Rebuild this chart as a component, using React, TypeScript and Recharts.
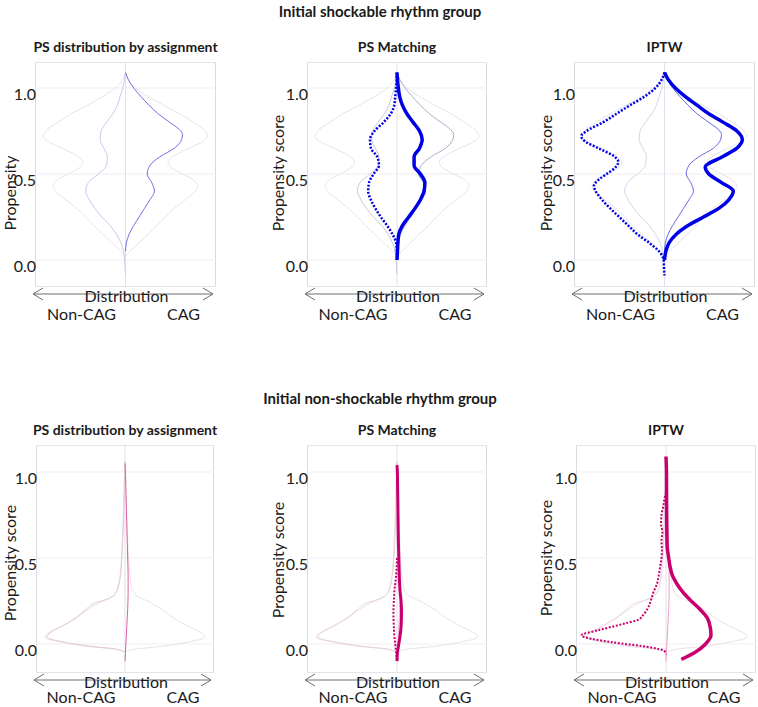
import React from 'react';
import { ScatterChart, Scatter, XAxis, YAxis, CartesianGrid, ReferenceLine } from 'recharts';

type Pt = [number, number]; // [propensity score, density as share of half panel width]

// Initial shockable rhythm group
const shockAll: Pt[] = [[0.02, 0], [0.05, 0.05], [0.1, 0.15], [0.15, 0.25], [0.2, 0.35], [0.25, 0.44], [0.3, 0.54], [0.35, 0.66], [0.4, 0.77], [0.43, 0.8], [0.47, 0.74], [0.5, 0.63], [0.54, 0.5], [0.57, 0.47], [0.61, 0.55], [0.65, 0.7], [0.69, 0.86], [0.72, 0.91], [0.75, 0.88], [0.8, 0.75], [0.85, 0.6], [0.9, 0.42], [0.95, 0.25], [1.0, 0.11], [1.05, 0.03], [1.09, 0]];
const shockNonCag: Pt[] = [[-0.08, 0], [0, 0.01], [0.05, 0.02], [0.1, 0.05], [0.15, 0.1], [0.2, 0.17], [0.25, 0.26], [0.3, 0.34], [0.35, 0.4], [0.4, 0.44], [0.45, 0.41], [0.5, 0.3], [0.55, 0.21], [0.6, 0.2], [0.65, 0.24], [0.7, 0.28], [0.75, 0.27], [0.8, 0.21], [0.85, 0.14], [0.9, 0.09], [0.95, 0.06], [1.0, 0.03], [1.05, 0.01], [1.09, 0]];
const shockCag: Pt[] = [[0.05, 0], [0.1, 0.01], [0.15, 0.04], [0.2, 0.09], [0.25, 0.15], [0.3, 0.21], [0.35, 0.27], [0.4, 0.32], [0.45, 0.29], [0.5, 0.24], [0.55, 0.27], [0.6, 0.38], [0.65, 0.54], [0.7, 0.62], [0.73, 0.63], [0.77, 0.57], [0.8, 0.49], [0.85, 0.36], [0.9, 0.26], [0.95, 0.17], [1.0, 0.09], [1.05, 0.03], [1.09, 0]];
const shockMatchNonCag: Pt[] = [[0.04, 0], [0.1, 0.01], [0.15, 0.05], [0.2, 0.11], [0.25, 0.18], [0.3, 0.24], [0.35, 0.29], [0.4, 0.32], [0.45, 0.31], [0.5, 0.26], [0.55, 0.2], [0.6, 0.22], [0.65, 0.29], [0.7, 0.3], [0.75, 0.25], [0.8, 0.15], [0.85, 0.07], [0.9, 0.03], [0.95, 0.02], [1.0, 0.01], [1.09, 0]];
const shockMatchCag: Pt[] = [[0, 0], [0.05, 0.005], [0.1, 0.01], [0.15, 0.02], [0.2, 0.06], [0.25, 0.13], [0.3, 0.2], [0.35, 0.26], [0.4, 0.3], [0.45, 0.31], [0.5, 0.26], [0.55, 0.19], [0.6, 0.19], [0.65, 0.25], [0.7, 0.28], [0.75, 0.25], [0.8, 0.18], [0.85, 0.11], [0.9, 0.06], [0.95, 0.03], [1.0, 0.015], [1.05, 0.005], [1.09, 0]];
const shockIptwNonCag: Pt[] = [[-0.09, 0], [-0.05, 0.005], [0, 0.01], [0.05, 0.06], [0.1, 0.17], [0.15, 0.3], [0.2, 0.4], [0.25, 0.5], [0.3, 0.6], [0.35, 0.69], [0.4, 0.76], [0.43, 0.78], [0.47, 0.72], [0.5, 0.64], [0.54, 0.54], [0.57, 0.51], [0.6, 0.55], [0.65, 0.73], [0.69, 0.88], [0.72, 0.92], [0.75, 0.86], [0.8, 0.68], [0.85, 0.53], [0.9, 0.38], [0.95, 0.22], [1.0, 0.1], [1.05, 0.03], [1.09, 0]];
const shockIptwCag: Pt[] = [[0, 0], [0.05, 0.015], [0.1, 0.05], [0.15, 0.13], [0.2, 0.26], [0.25, 0.43], [0.3, 0.6], [0.35, 0.71], [0.4, 0.76], [0.45, 0.63], [0.5, 0.49], [0.54, 0.45], [0.6, 0.64], [0.65, 0.8], [0.7, 0.86], [0.75, 0.8], [0.8, 0.65], [0.85, 0.49], [0.9, 0.36], [0.95, 0.23], [1.0, 0.12], [1.05, 0.04], [1.09, 0]];

// Initial non-shockable rhythm group
const nsAll: Pt[] = [[-0.05, 0], [-0.03, 0.12], [-0.015, 0.4], [0.01, 0.7], [0.04, 0.9], [0.07, 0.84], [0.1, 0.72], [0.15, 0.55], [0.2, 0.42], [0.25, 0.25], [0.28, 0.13], [0.32, 0.08], [0.4, 0.055], [0.5, 0.04], [0.6, 0.03], [0.8, 0.015], [1.0, 0.005], [1.06, 0]];
const nsNonCag: Pt[] = [[-0.05, 0], [-0.03, 0.1], [-0.015, 0.36], [0.01, 0.68], [0.04, 0.88], [0.07, 0.83], [0.1, 0.72], [0.15, 0.56], [0.2, 0.44], [0.24, 0.33], [0.26, 0.2], [0.3, 0.1], [0.35, 0.07], [0.4, 0.05], [0.5, 0.035], [0.6, 0.025], [0.8, 0.012], [1.0, 0.004], [1.06, 0]];
const nsCag: Pt[] = [[-0.1, 0], [-0.05, 0.005], [0, 0.01], [0.1, 0.02], [0.2, 0.03], [0.3, 0.035], [0.4, 0.035], [0.5, 0.03], [0.6, 0.025], [0.7, 0.02], [0.8, 0.015], [0.9, 0.01], [1.0, 0.005], [1.05, 0]];
const nsMatchNonCag: Pt[] = [[-0.09, 0], [-0.05, 0.01], [0, 0.02], [0.05, 0.03], [0.1, 0.035], [0.18, 0.04], [0.25, 0.035], [0.3, 0.03], [0.35, 0.02], [0.4, 0.01], [0.5, 0]];
const nsMatchCag: Pt[] = [[-0.1, 0], [-0.05, 0.005], [0, 0.02], [0.05, 0.035], [0.1, 0.045], [0.18, 0.05], [0.25, 0.045], [0.3, 0.035], [0.4, 0.025], [0.5, 0.02], [0.6, 0.015], [0.7, 0.012], [0.8, 0.01], [0.9, 0.007], [1.0, 0.004], [1.04, 0]];
const nsIptwNonCag: Pt[] = [[-0.06, 0], [-0.04, 0.02], [-0.02, 0.17], [0.01, 0.6], [0.05, 0.94], [0.08, 0.75], [0.1, 0.6], [0.12, 0.45], [0.14, 0.31], [0.17, 0.25], [0.2, 0.21], [0.25, 0.17], [0.3, 0.14], [0.35, 0.1], [0.4, 0.08], [0.45, 0.065], [0.5, 0.05], [0.55, 0.045], [0.6, 0.05], [0.65, 0.04], [0.7, 0.055], [0.75, 0.05], [0.8, 0.03], [0.85, 0.015], [0.88, 0]];
const nsIptwCag: Pt[] = [[-0.09, 0.17], [-0.05, 0.32], [0, 0.44], [0.05, 0.5], [0.1, 0.49], [0.15, 0.46], [0.2, 0.38], [0.25, 0.28], [0.3, 0.19], [0.35, 0.12], [0.4, 0.07], [0.45, 0.045], [0.5, 0.03], [0.57, 0.012], [0.7, 0.008], [1.0, 0.005], [1.09, 0]];

const yTicks = [0, 0.5, 1];
const groupTitles = ['Initial shockable rhythm group', 'Initial non-shockable rhythm group'];
const panelTitles = ['PS distribution by assignment', 'PS Matching', 'IPTW'];

const FONT = 'Lato, "Open Sans", sans-serif';
const BLUE = '#0000e6';
const MAGENTA = '#c8006e';
const AXIS_W = 40;

interface Curve { pts: Pt[]; side: 1 | -1; color: string; width: number; dotted?: boolean }

const toRows = (pts: Pt[], side: number) =>
  pts.map(([ps, d]) => ({ ps, d: side * d })).sort((a, b) => b.ps - a.ps);

const faintTop = (inL: string, inR: string): Curve[] => [
  { pts: shockAll, side: -1, color: '#e4e4ed', width: 1 },
  { pts: shockAll, side: 1, color: '#e4e4ed', width: 1 },
  { pts: shockNonCag, side: -1, color: inL, width: 1 },
  { pts: shockCag, side: 1, color: inR, width: 1 },
];
const faintBottom = (inL: string, inR: string): Curve[] => [
  { pts: nsAll, side: -1, color: '#eddfe6', width: 1 },
  { pts: nsAll, side: 1, color: '#eddfe6', width: 1 },
  { pts: nsNonCag, side: -1, color: inL, width: 1 },
  { pts: nsCag, side: 1, color: inR, width: 1 },
];

function Panel({ x, y, w, h, domain, curves, title, yLabel, labelY, labelX, groupY }: {
  x: number; y: number; w: number; h: number; domain: [number, number]; curves: Curve[];
  title: string; yLabel: string; labelY: number; labelX: number; groupY: number;
}) {
  const cx = x + w / 2;
  const text: React.CSSProperties = { position: 'absolute', fontFamily: FONT, fontSize: 16, color: '#1a1a1a', whiteSpace: 'nowrap', lineHeight: 1 };
  const tick = (p: any) => (
    <text x={AXIS_W + 1} y={p.y + 12} textAnchor="end" fontSize={16} fontFamily={FONT} fill="#1a1a1a">
      {Number(p.payload.value).toFixed(1)}
    </text>
  );
  const ay = y + h + 7;
  const ax0 = x - 2;
  const ax1 = x + w - 3;
  return (
    <>
      <div style={{ ...text, fontSize: 14, left: cx, top: y - 15, transform: 'translate(-50%, -50%)', fontWeight: 700 }}>{title}</div>
      <div style={{ ...text, left: labelX, top: labelY, transform: 'translate(-50%, -50%) rotate(-90deg)' }}>{yLabel}</div>
      <div style={{ position: 'absolute', left: x, top: y, width: w, height: h, boxSizing: 'border-box', border: '1px solid #d9d9e4' }} />
      <div style={{ position: 'absolute', left: x - AXIS_W, top: y }}>
        <ScatterChart width={w + AXIS_W} height={h} margin={{ top: 0, right: 0, bottom: 0, left: 0 }}>
          <CartesianGrid vertical={false} stroke="#efeff5" />
          <XAxis type="number" dataKey="d" domain={[-1, 1]} hide allowDataOverflow />
          <YAxis type="number" dataKey="ps" domain={domain} ticks={yTicks} interval={0} width={AXIS_W}
            axisLine={false} tickLine={false} tick={tick} allowDataOverflow />
          <ReferenceLine x={0} stroke="#e0e0ea" />
          {curves.map((c, i) => (
            <Scatter key={i} data={toRows(c.pts, c.side)} lineJointType="monotoneY"
              line={{ stroke: c.color, strokeWidth: c.width, strokeDasharray: c.dotted ? '2 1.6' : undefined }}
              shape={() => <g />} legendType="none" isAnimationActive={false} />
          ))}
        </ScatterChart>
      </div>
      <svg style={{ position: 'absolute', left: 0, top: 0, overflow: 'visible' }} width={1} height={1}>
        <g stroke="#6e6e6e" strokeWidth={1} fill="none">
          <line x1={ax0} y1={ay} x2={ax1} y2={ay} />
          <polyline points={`${ax0 + 10},${ay - 6} ${ax0},${ay} ${ax0 + 10},${ay + 6}`} />
          <polyline points={`${ax1 - 10},${ay - 6} ${ax1},${ay} ${ax1 - 10},${ay + 6}`} />
        </g>
      </svg>
      <div style={{ ...text, left: cx + 1, top: y + h + 9, transform: 'translate(-50%, -50%)' }}>Distribution</div>
      <div style={{ ...text, left: cx - 44, top: groupY, transform: 'translate(-50%, -50%)' }}>Non-CAG</div>
      <div style={{ ...text, left: cx + 58, top: groupY, transform: 'translate(-50%, -50%)' }}>CAG</div>
    </>
  );
}

export default function App() {
  const topDomain: [number, number] = [-0.157, 1.151];
  const botDomain: [number, number] = [-0.169, 1.157];
  const groupStyle: React.CSSProperties = { position: 'absolute', left: 380, transform: 'translate(-50%, -50%)', fontFamily: FONT, fontSize: 15, fontWeight: 700, color: '#1a1a1a', whiteSpace: 'nowrap', lineHeight: 1 };
  return (
    <div style={{ position: 'absolute', left: 0, top: 0, width: 758, height: 707, background: '#fff', overflow: 'hidden' }}>
      <div style={{ ...groupStyle, top: 11 }}>{groupTitles[0]}</div>
      <div style={{ ...groupStyle, top: 398 }}>{groupTitles[1]}</div>

      <Panel x={35} y={62} w={181} h={225} domain={topDomain} title={panelTitles[0]} yLabel="Propensity" labelX={10} labelY={193} groupY={314}
        curves={faintTop('#c9c9ee', '#7070e4')} />
      <Panel x={307} y={62} w={180} h={225} domain={topDomain} title={panelTitles[1]} yLabel="Propensity score" labelX={278} labelY={173} groupY={314}
        curves={[...faintTop('#c6cadc', '#a9b0cc'),
          { pts: shockMatchNonCag, side: -1, color: BLUE, width: 2.5, dotted: true },
          { pts: shockMatchCag, side: 1, color: BLUE, width: 3.5 }]} />
      <Panel x={574} y={62} w={181} h={225} domain={topDomain} title={panelTitles[2]} yLabel="Propensity score" labelX={546} labelY={173} groupY={314}
        curves={[...faintTop('#d4d4ee', '#6868e6'),
          { pts: shockIptwNonCag, side: -1, color: BLUE, width: 2.5, dotted: true },
          { pts: shockIptwCag, side: 1, color: BLUE, width: 3.5 }]} />

      <Panel x={36} y={445} w={178} h={228} domain={botDomain} title={panelTitles[0]} yLabel="Propensity score" labelX={10} labelY={563} groupY={697}
        curves={faintBottom('#e3c9d6', '#e0609f')} />
      <Panel x={307} y={445} w={180} h={228} domain={botDomain} title={panelTitles[1]} yLabel="Propensity score" labelX={278} labelY={560} groupY={697}
        curves={[...faintBottom('#e6d2dc', '#efb4cf'),
          { pts: nsMatchNonCag, side: -1, color: MAGENTA, width: 2, dotted: true },
          { pts: nsMatchCag, side: 1, color: MAGENTA, width: 3 }]} />
      <Panel x={576} y={445} w={180} h={228} domain={botDomain} title={panelTitles[2]} yLabel="Propensity score" labelX={546} labelY={558} groupY={697}
        curves={[...faintBottom('#ebd9e3', '#f0a0c8'),
          { pts: nsIptwNonCag, side: -1, color: MAGENTA, width: 2, dotted: true },
          { pts: nsIptwCag, side: 1, color: MAGENTA, width: 3.5 }]} />
    </div>
  );
}
